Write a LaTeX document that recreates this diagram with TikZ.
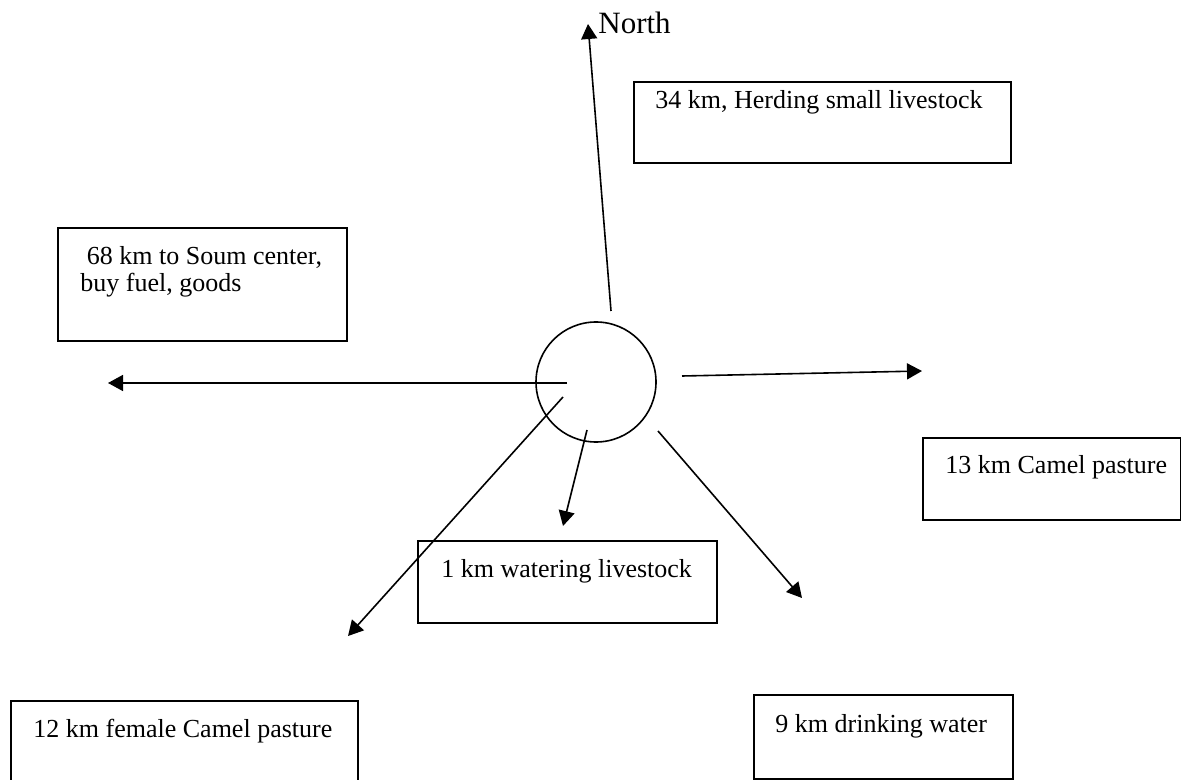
\documentclass[tikz,border=0pt]{standalone}
\usepackage{fontspec}
\setmainfont{Liberation Serif}
\usetikzlibrary{arrows.meta}

\begin{document}
\begin{tikzpicture}[
  x=0.5pt, y=-0.5pt,
  >={Triangle[length=7.5pt,width=8pt]},
  campnode/.style={circle, draw=black, line width=0.8pt, minimum size=60pt, inner sep=0pt},
  mapbox/.style={rectangle, draw=black, line width=0.9pt, inner sep=0pt},
  mapedge/.style={->, draw=black, line width=0.8pt},
  maplbl/.style={anchor=base west, inner sep=0pt, align=left, font={\fontsize{13}{13.5}\selectfont}},
  dirlbl/.style={anchor=base west, inner sep=0pt, font={\fontsize{15.5}{18}\selectfont}}
]
\useasboundingbox (0,0) rectangle (1182,780);
\node[campnode] (camp) at (596,382) {};
\node[mapbox, minimum width=188.5pt, minimum height=40.5pt] (b1) at (822.5,122.5) {};
\node[mapbox, minimum width=144.5pt, minimum height=56.5pt] (b2) at (202.5,284.5) {};
\node[mapbox, minimum width=128.75pt, minimum height=41pt] (b3) at (1051.75,479) {};
\node[mapbox, minimum width=149.5pt, minimum height=41pt] (b4) at (567.5,582) {};
\node[mapbox, minimum width=173.5pt, minimum height=41.5pt] (b5) at (184.5,742.5) {};
\node[mapbox, minimum width=129.5pt, minimum height=42pt] (b6) at (883.5,737) {};
\node[maplbl] (l1) at (655,109) {34 km, Herding small livestock};
\node[maplbl] (l2) at (80,292) {\ 68 km to Soum center,\\buy fuel, goods};
\node[maplbl] (l3) at (945,473) {13 km Camel pasture};
\node[maplbl] (l4) at (441,577) {1 km watering livestock};
\node[maplbl] (l5) at (33,737) {12 km female Camel pasture};
\node[maplbl] (l6) at (775,732) {9 km drinking water};
\node[dirlbl] (north) at (598,34) {North};
% free ends of the arrows
\coordinate (s1) at (611,311);  \coordinate (t1) at (588,24);
\coordinate (s2) at (567,383);  \coordinate (t2) at (108,383);
\coordinate (s3) at (682,376);  \coordinate (t3) at (922,371);
\coordinate (s4) at (587,430);  \coordinate (t4) at (563,526);
\coordinate (s5) at (563,397);  \coordinate (t5) at (348,636);
\coordinate (s6) at (658,431);  \coordinate (t6) at (802,598);
\draw[mapedge] (s1) -- (t1);
\draw[mapedge] (s2) -- (t2);
\draw[mapedge] (s3) -- (t3);
\draw[mapedge] (s4) -- (t4);
\draw[mapedge] (s5) -- (t5);
\draw[mapedge] (s6) -- (t6);
\end{tikzpicture}
\end{document}
